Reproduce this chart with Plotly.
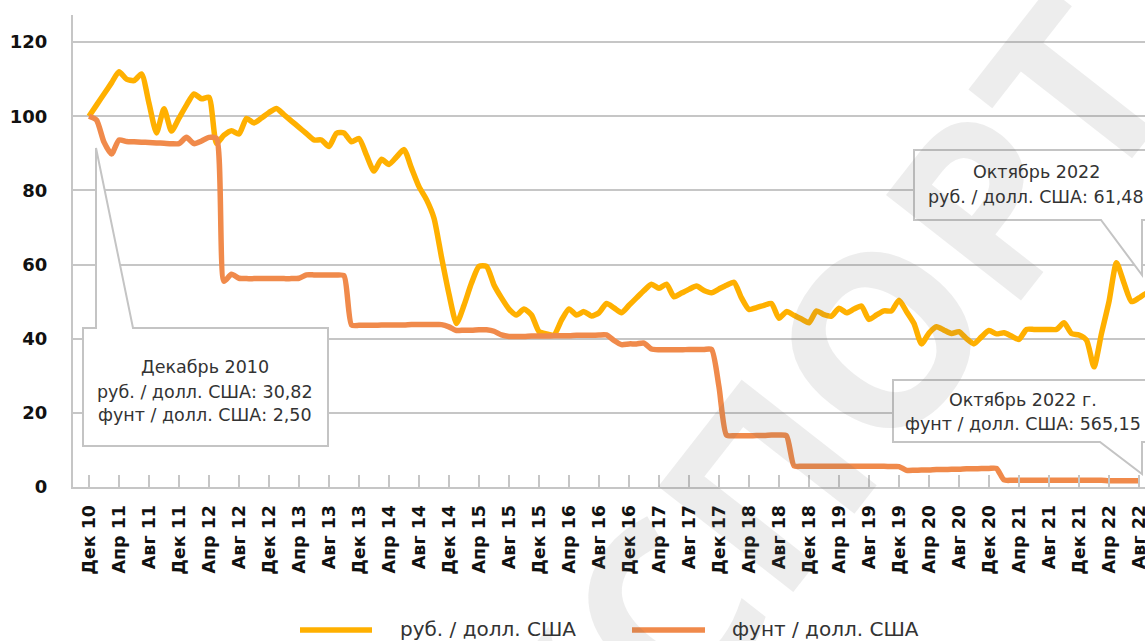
import plotly.graph_objects as go

# ---------------- data ----------------
tick_labels = ["Дек 10", "Апр 11", "Авг 11", "Дек 11", "Апр 12", "Авг 12", "Дек 12",
               "Апр 13", "Авг 13", "Дек 13", "Апр 14", "Авг 14", "Дек 14", "Апр 15",
               "Авг 15", "Дек 15", "Апр 16", "Авг 16", "Дек 16", "Апр 17", "Авг 17",
               "Дек 17", "Апр 18", "Авг 18", "Дек 18", "Апр 19", "Авг 19", "Дек 19",
               "Апр 20", "Авг 20", "Дек 20", "Апр 21", "Авг 21", "Дек 21", "Апр 22",
               "Авг 22"]
tick_positions = list(range(0, 141, 4))

# index (Dec 2010 = 100), monthly from Dec 2010
rub_index = [
    100, 103, 106, 109, 112, 110, 109.6, 111.4, 103.5, 95.5,
    102, 96, 99.5, 103, 106, 104.7, 105.1, 92.7, 94.9, 96.1,
    95.2, 99.4, 98.2, 99.5, 101, 102.1, 100.4, 98.7, 97, 95.3,
    93.6, 93.6, 91.8, 95.4, 95.5, 93.1, 94, 89.5, 85.2, 88.4,
    87, 89, 91, 86, 81, 77.5, 72.5, 62, 52, 44.1,
    49, 55, 59.5, 59.5, 54.5, 51, 48, 46.4, 48, 46.4,
    41.9, 41.3, 41, 45, 48, 46.4, 47.3, 46.1, 47, 49.5,
    48.3, 47, 49, 51, 53, 54.7, 53.6, 54.7, 51.3, 52.3,
    53.3, 54.2, 53, 52.4, 53.4, 54.4, 55.2, 51, 47.9, 48.4,
    49, 49.5, 45.5, 47.3, 46.3, 45.3, 44.3, 47.5, 46.5, 46.1,
    48.2, 47, 48, 48.8, 45.2, 46.4, 47.5, 47.5, 50.4, 47.3,
    44.1, 38.6, 41.5, 43.2, 42.3, 41.4, 41.9, 40, 38.6, 40.5,
    42.2, 41.3, 41.6, 40.7, 39.8, 42.5, 42.5, 42.5, 42.5, 42.5,
    44.3, 41.4, 41, 39.6, 32.4, 41.4, 50, 60.5, 55, 50,
    51, 52.2, 50.1,
]
pound_index = [
    100, 99, 93, 89.8, 93.6, 93.2, 93.1, 93.0, 92.9, 92.8,
    92.7, 92.6, 92.6, 94.3, 92.6, 93.3, 94.3, 94, 55.5, 57.4,
    56.3, 56.2, 56.2, 56.2, 56.2, 56.2, 56.2, 56.2, 56.3, 57.2,
    57.2, 57.2, 57.2, 57.2, 57, 43.7, 43.6, 43.6, 43.6, 43.7,
    43.7, 43.7, 43.7, 43.8, 43.8, 43.8, 43.8, 43.8, 43.2, 42.2,
    42.3, 42.3, 42.4, 42.4, 42, 41, 40.6, 40.6, 40.6, 40.7,
    40.7, 40.7, 40.8, 40.8, 40.8, 40.9, 40.9, 40.9, 41, 41,
    39.5, 38.4, 38.6, 38.6, 38.8, 37.2, 37, 37, 37, 37,
    37.1, 37.1, 37.1, 37.1, 27, 14, 13.8, 13.8, 13.8, 13.9,
    13.9, 14, 14, 13.8, 5.7, 5.6, 5.6, 5.6, 5.6, 5.6,
    5.6, 5.6, 5.6, 5.6, 5.6, 5.6, 5.6, 5.5, 5.5, 4.5,
    4.5, 4.6, 4.6, 4.7, 4.7, 4.8, 4.8, 4.9, 4.9, 5.0,
    5.0, 5.0, 1.9, 1.8, 1.8, 1.8, 1.8, 1.8, 1.8, 1.8,
    1.8, 1.8, 1.8, 1.8, 1.8, 1.8, 1.7, 1.7, 1.7, 1.7,
    1.7,
]
series_names = ["руб. / долл. США", "фунт / долл. США"]
callout_start = ["Декабрь 2010", "руб. / долл. США: 30,82", "фунт / долл. США: 2,50"]
callout_rub = ["Октябрь 2022", "руб. / долл. США: 61,48"]
callout_pound = ["Октябрь 2022 г.", "фунт / долл. США: 565,15"]
watermark = "ЭКСПОРТ"

# ---------------- layout geometry ----------------
W, H = 1145, 641
L, T, R, B = 73, 15, 0, 154
PW, PH = W - L - R, H - T - B
X0_PX, MONTH_PX = 89, 7.5
x_range = [(L - X0_PX) / MONTH_PX, (W - R - X0_PX) / MONTH_PX]
Y_MAX = 127.3

def fx(p):
    return (p - L) / PW

def fy(p):
    return (H - B - p) / PH

FONT = "DejaVu Sans"
WM_FONT = "Open Sans"
GRID = "#c6c6c6"
RUB_C = "#FFB000"
POUND_C = "#F08A4B"
TEXT_C = "#333333"
colors = [RUB_C, POUND_C]

fig = go.Figure()
for name, vals, col in zip(series_names, [rub_index, pound_index], colors):
    fig.add_trace(go.Scatter(
        x=list(range(len(vals))), y=vals, name=name, mode="lines", showlegend=False,
        line=dict(color=col, width=5.5, shape="spline", smoothing=0.6),
    ))

def path(points):
    return "M " + " L ".join(f"{fx(a):.5f},{fy(b):.5f}" for a, b in points) + " Z"

callout_shapes = [
    [(83, 328), (96, 328), (96, 148), (133, 328), (328, 328), (328, 446), (83, 446)],
    [(914, 150), (1170, 150), (1170, 220), (1142, 220), (1142, 275), (1101, 220), (914, 220)],
    [(893, 380), (1170, 380), (1170, 442), (1142, 442), (1142, 474), (1100, 442), (893, 442)],
]
shapes = [dict(type="path", xref="paper", yref="paper", path=path(p),
               line=dict(color="#c4c4c4", width=2), fillcolor="white", layer="above")
          for p in callout_shapes]

annotations = [dict(
    text="<b>" + watermark + "</b>", xref="paper", yref="paper", x=fx(763), y=fy(478),
    showarrow=False, textangle=-52,
    font=dict(family=WM_FONT, size=240, color="rgba(110,110,110,0.12)"),
    xanchor="center", yanchor="middle")]

def line_ann(text, xc, yc):
    return dict(text=text, xref="paper", yref="paper", x=fx(xc), y=fy(yc), showarrow=False,
                xanchor="center", yanchor="middle",
                font=dict(family=FONT, size=17.5, color=TEXT_C))

for t, yy in zip(callout_start, [367, 392, 415]):
    annotations.append(line_ann(t, 205, yy))
for t, yy in zip(callout_rub, [172, 197]):
    annotations.append(line_ann(t, 1036, yy))
for t, yy in zip(callout_pound, [400, 424]):
    annotations.append(line_ann(t, 1023, yy))

# legend (line sample + text in the bottom margin)
legend_items = [(300, 372, 398), (632, 705, 730)]
for (x1, x2, xt), name, col in zip(legend_items, series_names, colors):
    shapes.append(dict(type="line", xref="paper", yref="paper", x0=fx(x1), x1=fx(x2),
                       y0=fy(630), y1=fy(630), line=dict(color=col, width=5.5)))
    annotations.append(dict(text=name, xref="paper", yref="paper", x=fx(xt), y=fy(629),
                            xanchor="left", yanchor="middle", showarrow=False,
                            font=dict(family=FONT, size=20, color=TEXT_C)))

fig.update_layout(
    width=W, height=H,
    margin=dict(l=L, r=R, t=T, b=B, pad=0),
    paper_bgcolor="white", plot_bgcolor="white",
    font=dict(family=FONT, color="#111"),
    shapes=shapes, annotations=annotations,
    showlegend=False,
    xaxis=dict(range=x_range, tickmode="array", tickvals=tick_positions, ticktext=tick_labels,
               tickangle=-90, ticks="inside", ticklen=12, tickwidth=1.5, tickcolor=GRID,
               showline=True, linecolor=GRID, linewidth=2, showgrid=False, zeroline=False,
               automargin=False, ticklabeloverflow="allow",
               tickfont=dict(family=FONT, size=17.5, color="#111", weight="bold"),
               ticklabelstandoff=9),
    yaxis=dict(range=[0, Y_MAX], tickmode="array", tickvals=[0, 20, 40, 60, 80, 100, 120],
               showgrid=True, gridcolor=GRID, gridwidth=2, zeroline=False,
               showline=True, linecolor=GRID, linewidth=2, ticks="", automargin=False,
               tickfont=dict(family=FONT, size=18, color="#111", weight="bold"),
               ticklabelstandoff=20),
)

fig.write_html("out.html", config={"displayModeBar": False},
               post_script="document.body.style.margin='0px';")
